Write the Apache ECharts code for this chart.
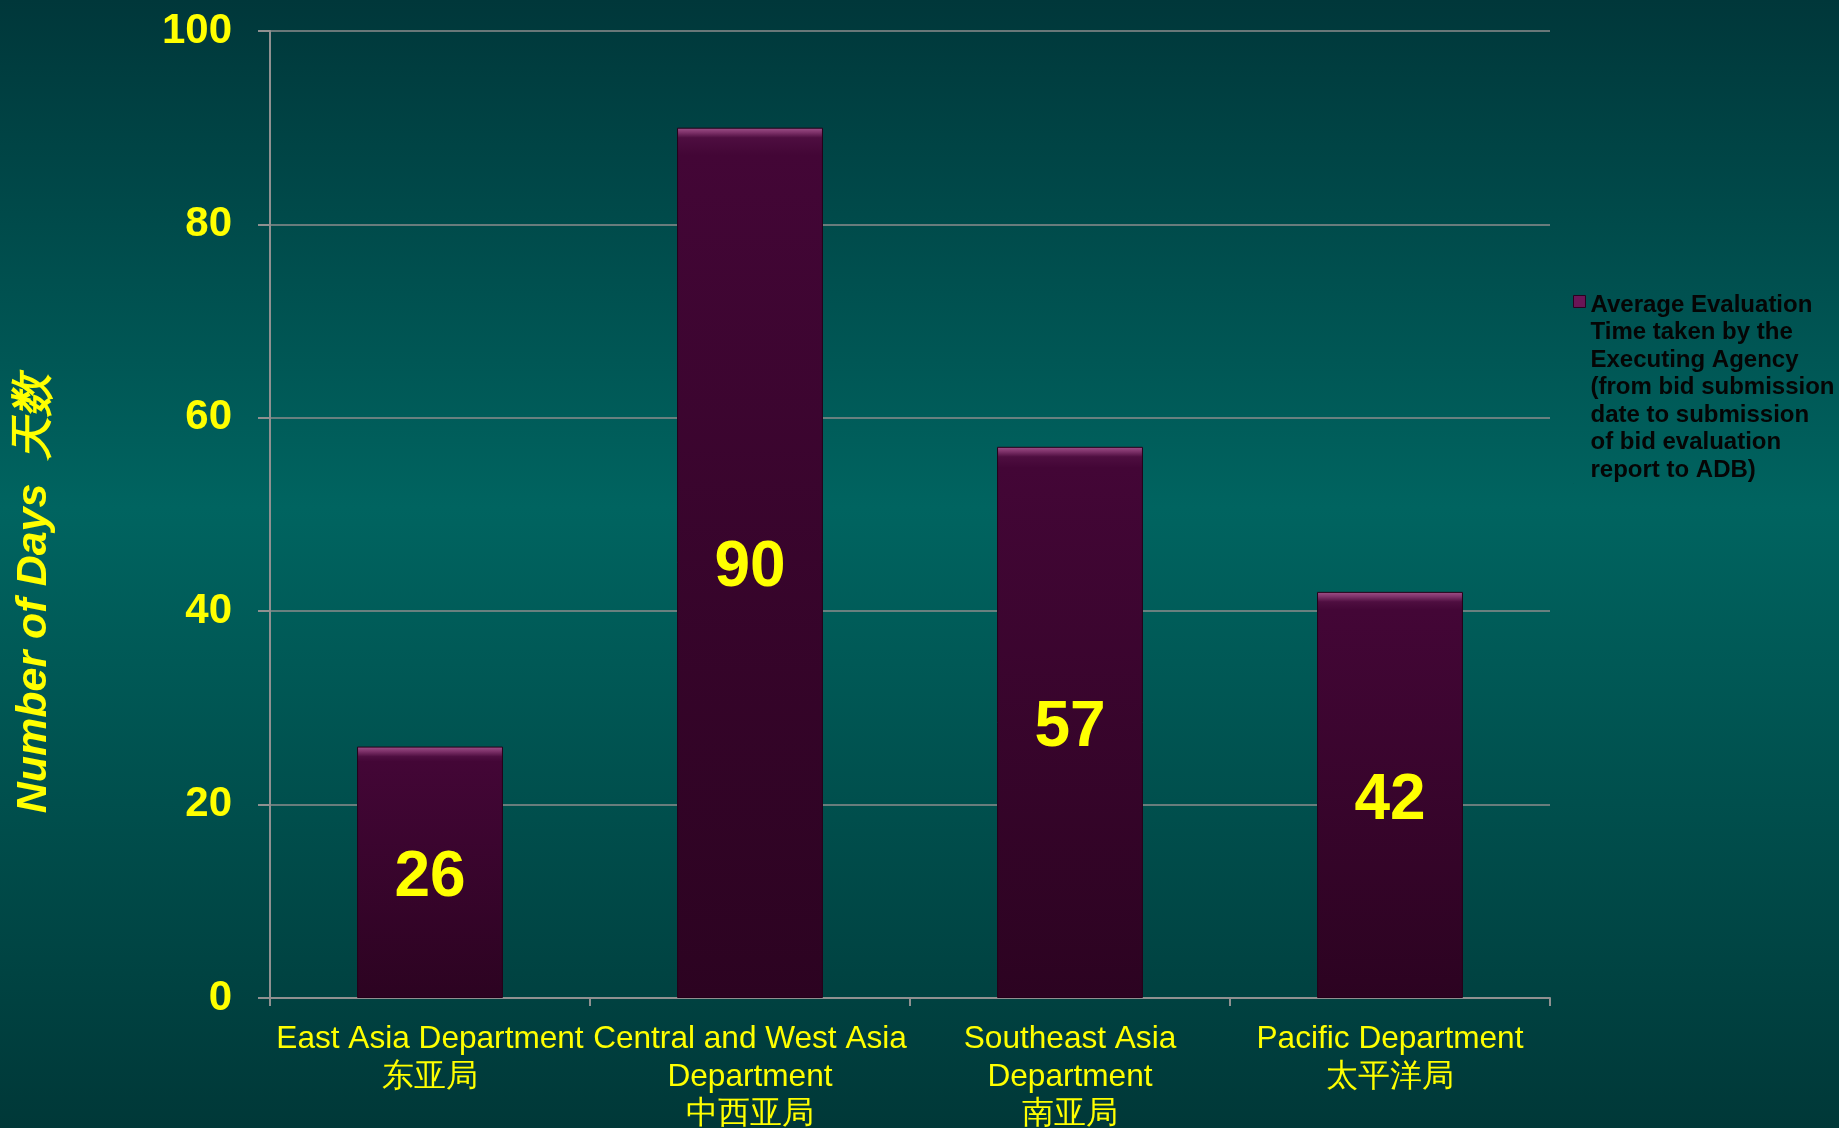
<!DOCTYPE html>
<html>
<head>
<meta charset="utf-8">
<title>Average Evaluation Time</title>
<script src="https://cdn.jsdelivr.net/npm/echarts@6/dist/echarts.min.js"></script>
<style>
  html, body { margin: 0; padding: 0; }
  #chart { width: 1839px; height: 1128px; }
</style>
</head>
<body>
<div id="chart"></div>
<script>
const categories = [
  'East Asia Department\n东亚局',
  'Central and West Asia\nDepartment\n中西亚局',
  'Southeast Asia\nDepartment\n南亚局',
  'Pacific Department\n太平洋局'
]
const days = [26, 90, 57, 42]
const seriesName = 'Average Evaluation\nTime taken by the\nExecuting Agency\n(from bid submission\ndate to submission\nof bid evaluation\nreport to ADB)'
const yMax = 100
const yStep = 20

const chart = echarts.init(document.getElementById('chart'))

// bar fill with a thin light bevel at the top (about 10px of the bar)
const barFill = (value) => {
  const h = value * 9.67
  const band = Math.min(0.5, 10 / h)
  return {
    type: 'linear', x: 0, y: 0, x2: 0, y2: 1,
    colorStops: [
      { offset: 0, color: '#a0528a' },
      { offset: band * 0.5, color: '#7c3068' },
      { offset: band, color: '#4e0e40' },
      { offset: band + 0.02, color: '#430636' },
      { offset: 1, color: '#2c0321' }
    ]
  }
}

const option = {
  backgroundColor: {
    type: 'linear', x: 0, y: 0, x2: 0, y2: 1,
    colorStops: [
      { offset: 0, color: '#00373a' },
      { offset: 0.45, color: '#006460' },
      { offset: 1, color: '#003838' }
    ]
  },
  grid: { left: 270, right: 289, top: 31, bottom: 130, outerBoundsMode: 'none' },
  legend: {
    left: 1568,
    top: 286,
    orient: 'vertical',
    data: [seriesName],
    icon: 'path://M0,4h12v12h-12z M0,0h0.01v0.01h-0.01z M0,192h0.01v0.01h-0.01z',
    itemWidth: 12,
    itemHeight: 192,
    itemGap: 0,
    itemStyle: { color: '#6a1556', borderColor: '#2a0020', borderWidth: 1 },
    textStyle: {
      color: '#050505',
      fontFamily: 'Liberation Sans, Arial, sans-serif',
      fontWeight: 'bold',
      fontSize: 24,
      lineHeight: 27.5
    }
  },
  xAxis: {
    type: 'category',
    data: categories,
    axisLine: { lineStyle: { color: '#909090', width: 2 } },
    axisTick: { show: true, length: 8, lineStyle: { color: '#909090', width: 2 } },
    axisLabel: {
      interval: 0,
      margin: 23,
      color: '#ffff00',
      fontFamily: 'Liberation Sans, Arial, sans-serif',
      fontSize: 31.6,
      lineHeight: 37.5
    }
  },
  yAxis: {
    type: 'value',
    min: 0,
    max: yMax,
    interval: yStep,
    name: 'Number of Days  天数',
    nameLocation: 'middle',
    nameGap: 214,
    nameRotate: 90,
    nameTextStyle: {
      color: '#ffff00',
      fontFamily: 'Liberation Sans, Arial, sans-serif',
      fontSize: 43,
      fontWeight: 'bold',
      fontStyle: 'italic',
      padding: [0, 158, 0, 0]
    },
    axisLine: { show: true, lineStyle: { color: '#909090', width: 2 } },
    axisTick: { show: true, length: 12, lineStyle: { color: '#909090', width: 2 } },
    axisLabel: {
      margin: 38,
      color: '#ffff00',
      fontFamily: 'Liberation Sans, Arial, sans-serif',
      fontSize: 42,
      fontWeight: 'bold'
    },
    splitLine: { lineStyle: { color: '#8c8c8c', width: 1.5 } }
  },
  series: [{
    name: seriesName,
    type: 'bar',
    barWidth: '45.6%',
    data: days.map(v => ({ value: v, itemStyle: { color: barFill(v) } })),
    itemStyle: { borderColor: '#240019', borderWidth: 1 },
    label: {
      show: true,
      position: 'inside',
      offset: [0, 6],
      color: '#ffff00',
      fontFamily: 'Liberation Sans, Arial, sans-serif',
      fontSize: 64,
      fontWeight: 'bold'
    }
  }]
}

chart.setOption(option)
window.addEventListener('resize', () => chart.resize())
</script>
</body>
</html>
